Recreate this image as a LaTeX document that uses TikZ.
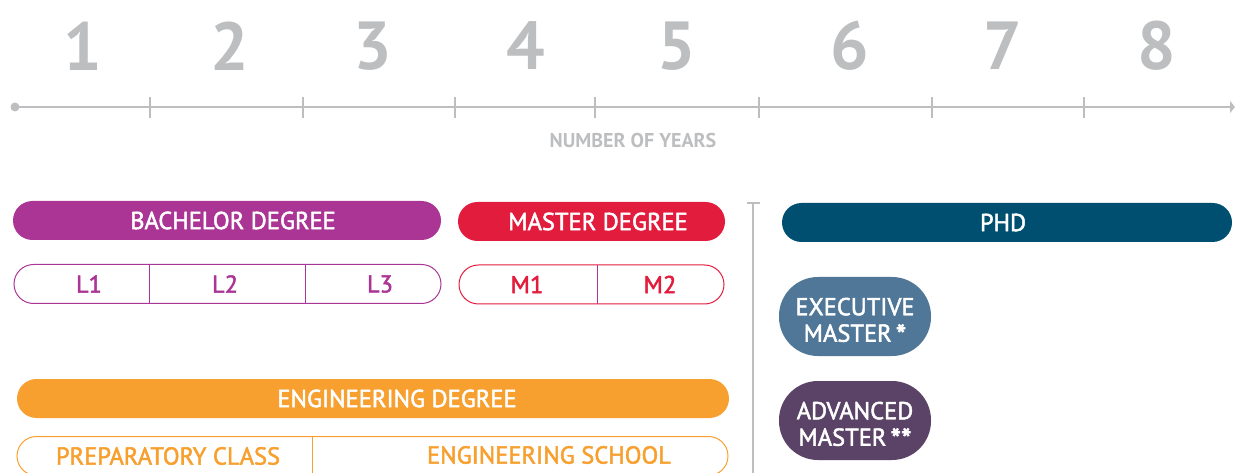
\documentclass[tikz,border=0pt]{standalone}
\usepackage{fontspec}
\setmainfont{PT Sans}
\newfontfamily\medfont{PT Sans}[FakeBold=2]
\newfontfamily\digfont{PT Sans Bold}
\usetikzlibrary{arrows.meta}
\definecolor{tlgray}{HTML}{BCBEC0}
\definecolor{bachc}{HTML}{AB3594}
\definecolor{mastc}{HTML}{E21C3D}
\definecolor{phdc}{HTML}{004F71}
\definecolor{execc}{HTML}{507797}
\definecolor{advc}{HTML}{5A4366}
\definecolor{engc}{HTML}{F7A030}
\tikzset{
  pill/.style={rounded corners=19.5pt, minimum height=39pt, inner sep=0pt},
  pilltext/.style={text=white, inner sep=0pt, font=\medfont\fontsize{24.5}{26}\selectfont},
  outl/.style={rounded corners=19.5pt, minimum height=39pt, inner sep=0pt, draw, line width=1pt},
  seglabel/.style={font=\medfont\fontsize{24.5}{26}\selectfont, inner sep=0pt},
  blob/.style={rounded corners=39pt, minimum width=152pt, minimum height=79pt, inner sep=0pt,
    text=white, align=center, font=\medfont\fontsize{24.5}{26.5}\selectfont},
  yearnum/.style={text=tlgray, font=\digfont\fontsize{68}{68}\selectfont, inner sep=0pt},
  tick/.style={draw=tlgray, line width=1.6pt}
}
\newcommand{\bigast}[1]{\raisebox{-4pt}{\fontsize{30}{30}\selectfont#1}}
\begin{document}
\begin{tikzpicture}[x=1pt,y=-1pt]
\useasboundingbox (0,0) rectangle (1235,473);
\clip (0,0) rectangle (1235,473);
% year numbers
\foreach \n/\x in {1/83,2/230,3/373,4/526,5/677,6/850,7/1003,8/1157}
  \node[yearnum] (y\n) at (\x,46) {\n};
% timeline
\coordinate (tlstart) at (15,107);
\coordinate (tlend) at (1235,107);
\fill[tlgray] (tlstart) circle (4.5pt);
\draw[tick, -{Triangle[width=12pt,length=5pt]}] (tlstart) -- (tlend);
\foreach \x in {150,303,455,595,759,932,1084}
  \draw[tick] (\x,97) -- (\x,118);
\node[text=tlgray, font=\bfseries\fontsize{20}{22}\selectfont, inner sep=0pt] (nyears) at (633,141) {NUMBER OF YEARS};
% bachelor
\node[pill, fill=bachc, minimum width=428pt] (bach) at (227,220.5) {};
\node[pilltext] (bachtext) at (233,220.5) {BACHELOR DEGREE};
\node[outl, draw=bachc, minimum width=427pt] (lbox) at (227.5,284) {};
\draw[bachc, line width=1pt] (149,264) -- (149,304) (305,264) -- (305,304);
\node[seglabel, text=bachc] (l1) at (89,284) {L1};
\node[seglabel, text=bachc] (l2) at (225,284) {L2};
\node[seglabel, text=bachc] (l3) at (380,284) {L3};
% master
\node[pill, fill=mastc, minimum width=267pt] (mast) at (591.5,221.5) {};
\node[pilltext] (masttext) at (598,221.5) {MASTER DEGREE};
\node[outl, draw=mastc, minimum width=265pt] (mbox) at (591.5,284.5) {};
\draw[bachc, line width=1pt] (597,265) -- (597,304);
\node[seglabel, text=mastc] (m1) at (527,284.5) {M1};
\node[seglabel, text=mastc] (m2) at (660,284.5) {M2};
% vertical separator
\draw[tlgray, line width=2pt] (753,203) -- (753,473);
\draw[tlgray, line width=2pt] (747,203) -- (760,203);
% phd
\node[pill, fill=phdc, minimum width=450pt] (phd) at (1007,222.5) {};
\node[pilltext] (phdtext) at (1003,222.5) {PHD};
\node[blob, fill=execc] (exec) at (855,316.5) {\rule{0pt}{28pt}EXECUTIVE\\MASTER\,\bigast{*}};
\node[blob, fill=advc] (adv) at (855,420.5) {\rule{0pt}{28pt}ADVANCED\\MASTER\,\bigast{**}};
% engineering
\node[pill, fill=engc, minimum width=712pt] (eng) at (373,398.5) {};
\node[pilltext] (engtext) at (397,398.5) {ENGINEERING DEGREE};
\node[outl, draw=engc, minimum width=711pt] (ebox) at (372.5,456) {};
\draw[engc, line width=1pt] (312,436) -- (312,476);
\node[seglabel, text=engc] (prep) at (168,456) {PREPARATORY CLASS};
\node[seglabel, text=engc] (school) at (549,455) {ENGINEERING SCHOOL};
\end{tikzpicture}
\end{document}
